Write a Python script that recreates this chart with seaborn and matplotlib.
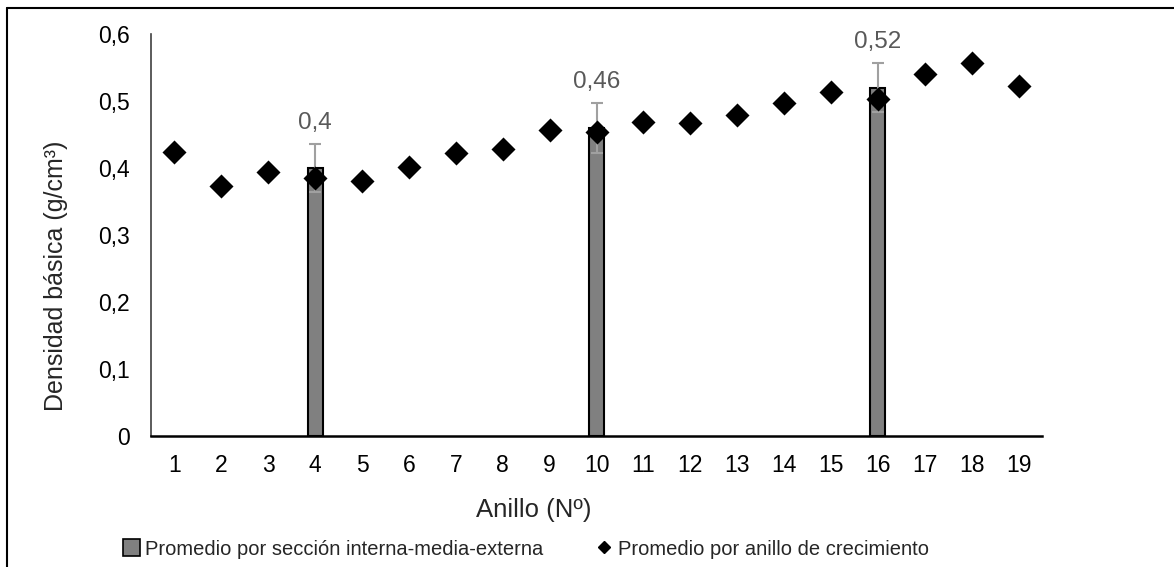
import matplotlib
matplotlib.use("Agg")
import matplotlib.pyplot as plt
import seaborn as sns
import numpy as np
from matplotlib.lines import Line2D
from matplotlib.patches import Patch

# ---- data ----
rings = list(range(1, 20))
ring_density = [0.424, 0.373, 0.394, 0.385, 0.381, 0.402, 0.422, 0.429, 0.457, 0.453,
                0.469, 0.467, 0.479, 0.497, 0.513, 0.503, 0.541, 0.556, 0.522]
ring_err = [0.006] * 19
bar_rings = [4, 10, 16]
bar_values = [0.40, 0.46, 0.52]
bar_err = [0.036, 0.037, 0.037]
bar_labels = ["0,4", "0,46", "0,52"]
ytick_vals = [0, 0.1, 0.2, 0.3, 0.4, 0.5, 0.6]
ytick_labels = ["0", "0,1", "0,2", "0,3", "0,4", "0,5", "0,6"]
xlabel = "Anillo (Nº)"
ylabel = "Densidad básica (g/cm³)"
legend_labels = ["Promedio por sección interna-media-externa",
                 "Promedio por anillo de crecimiento"]

sns.set_theme(style="white")
plt.rcParams['font.family'] = ['Liberation Sans', 'DejaVu Sans']

W, H = 1174, 567
fig = plt.figure(figsize=(W/100, H/100), dpi=100)
ax = fig.add_axes([151/W, 1-436/H, (1042-151)/W, (436-34)/H])

order = [str(r) for r in rings]
sns.barplot(x=[str(r) for r in bar_rings], y=bar_values, order=order,
            color="#808080", edgecolor="black", linewidth=1.5, width=0.32,
            saturation=1, errorbar=None, ax=ax)

bx = [r - 1 for r in bar_rings]
ax.errorbar(bx, bar_values, yerr=bar_err, fmt="none", ecolor="#a0a0a0",
            elinewidth=1.5, capsize=4.5, capthick=1.5, zorder=3)

px = [r - 1 for r in rings]
ax.errorbar(px, ring_density, yerr=ring_err, fmt="none", ecolor="#8c8c8c",
            elinewidth=1, capsize=3, capthick=1, zorder=3)
sns.scatterplot(x=px, y=ring_density, marker="D", s=150, color="black",
                edgecolor="black", linewidth=0, ax=ax, zorder=4)

for x, v, e, lab in zip(bx, bar_values, bar_err, bar_labels):
    ax.annotate(lab, (x, v + e), xytext=(0, 7), textcoords="offset points",
                ha="center", va="bottom", fontsize=17.5, color="#595959")

ax.set_xlim(-0.5, 18.5)
ax.set_ylim(0, 0.6)
ax.set_yticks(ytick_vals)
ax.set_yticklabels(ytick_labels, fontsize=16.5)
ax.set_xticks(px)
ax.set_xticklabels(order, fontsize=16.5)
ax.tick_params(axis="both", length=0, colors="black")
ax.tick_params(axis="y", pad=15)
ax.tick_params(axis="x", pad=13)
for s in ["top", "right"]:
    ax.spines[s].set_visible(False)
ax.spines["left"].set_color("#404040")
ax.spines["left"].set_linewidth(1.2)
ax.spines["bottom"].set_color("black")
ax.spines["bottom"].set_linewidth(1.8)
ax.set_xlabel(xlabel, fontsize=18.5)
ax.xaxis.set_label_coords((534-151)/891, (436-498)/402)
ax.set_ylabel(ylabel, fontsize=18)
ax.yaxis.set_label_coords((68-151)/891, (436-276)/402)

handles = [Patch(facecolor="#808080", edgecolor="black", linewidth=1.2),
           Line2D([0], [0], marker="D", color="black", linestyle="none", markersize=6)]
fig.legend(handles, legend_labels, loc="center", bbox_to_anchor=(526/W, 1-549/H),
           ncol=2, frameon=False, fontsize=14.5, handlelength=0.85, handleheight=0.85,
           handletextpad=0.25, columnspacing=2.6, borderpad=0)

fig.add_artist(Line2D([7/W, 1], [1-8/H, 1-8/H], color="black", linewidth=1.5,
                      transform=fig.transFigure))
fig.add_artist(Line2D([7/W, 7/W], [0, 1-8/H], color="black", linewidth=1.5,
                      transform=fig.transFigure))

fig.savefig("out.png", dpi=100)
